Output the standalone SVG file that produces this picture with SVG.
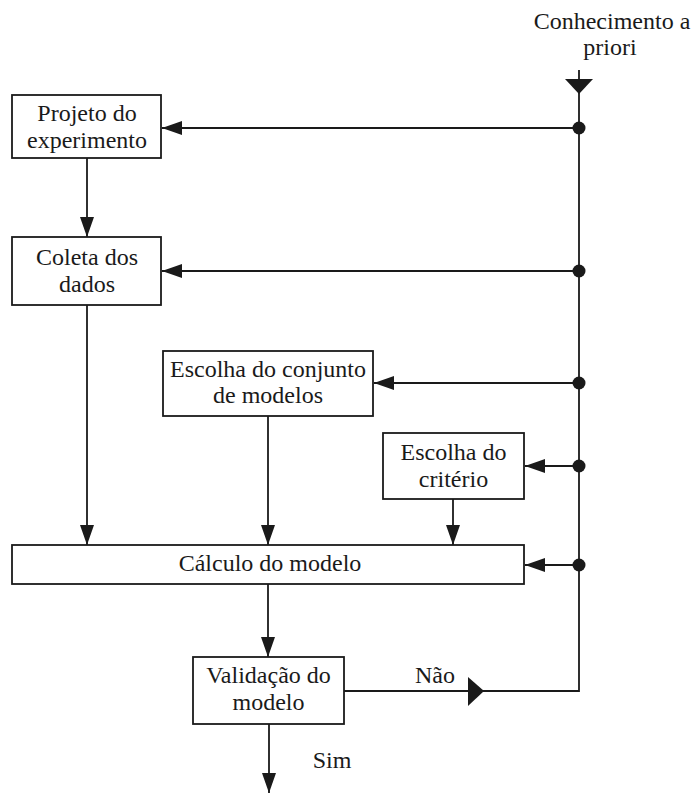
<svg xmlns="http://www.w3.org/2000/svg" width="693" height="796" viewBox="0 0 693 796">
<style>
.box{fill:#fff;stroke:#1a1a1a;stroke-width:1.8}
.ln{fill:none;stroke:#1a1a1a;stroke-width:1.8}
.t{font-family:"Liberation Serif","Times New Roman",serif;font-size:24px;fill:#1a1a1a;text-anchor:middle}
.dot{fill:#1a1a1a}
.tri{fill:#1a1a1a}
</style>
<defs>
<marker id="arr" markerUnits="userSpaceOnUse" markerWidth="20" markerHeight="14" refX="20" refY="7" orient="auto">
<path d="M0,0 L20,7 L0,14 z" fill="#1a1a1a"/>
</marker>
</defs>
<rect width="693" height="796" fill="#fff"/>
<g id="connectors">
<path class="ln" d="M579,70 V691 H344"/>
<polygon class="tri" points="565,79 593,79 579,94"/>
<polygon class="tri" points="468,677 484,691 468,706"/>
<path class="ln" d="M579,128 H162" marker-end="url(#arr)"/>
<path class="ln" d="M579,271 H162" marker-end="url(#arr)"/>
<path class="ln" d="M579,383 H374" marker-end="url(#arr)"/>
<path class="ln" d="M579,466 H525" marker-end="url(#arr)"/>
<path class="ln" d="M579,565 H525" marker-end="url(#arr)"/>
<circle class="dot" cx="579" cy="128" r="6.5"/>
<circle class="dot" cx="579" cy="271" r="6.5"/>
<circle class="dot" cx="579" cy="383" r="6.5"/>
<circle class="dot" cx="579" cy="466" r="6.5"/>
<circle class="dot" cx="579" cy="565" r="6.5"/>
<path class="ln" d="M87,158 V237" marker-end="url(#arr)"/>
<path class="ln" d="M87,305 V545" marker-end="url(#arr)"/>
<path class="ln" d="M268,416 V545" marker-end="url(#arr)"/>
<path class="ln" d="M453,499 V545" marker-end="url(#arr)"/>
<path class="ln" d="M268,584 V657" marker-end="url(#arr)"/>
<path class="ln" d="M269,724 V793" marker-end="url(#arr)"/>
<text class="t" x="435" y="683">Não</text>
<text class="t" x="332" y="768">Sim</text>
</g>
<g id="input">
<text class="t" x="612" y="29">Conhecimento a</text>
<text class="t" x="610" y="55">priori</text>
</g>
<g id="projeto">
<rect class="box" x="12" y="95" width="149" height="63"/>
<text class="t" x="87" y="121">Projeto do</text>
<text class="t" x="87" y="148">experimento</text>
</g>
<g id="coleta">
<rect class="box" x="12" y="237" width="149" height="68"/>
<text class="t" x="87" y="265">Coleta dos</text>
<text class="t" x="87" y="292">dados</text>
</g>
<g id="conjunto">
<rect class="box" x="163" y="351" width="210" height="65"/>
<text class="t" x="268" y="377">Escolha do conjunto</text>
<text class="t" x="268" y="403">de modelos</text>
</g>
<g id="criterio">
<rect class="box" x="383" y="433" width="141" height="66"/>
<text class="t" x="453.5" y="460">Escolha do</text>
<text class="t" x="453.5" y="487">critério</text>
</g>
<g id="calculo">
<rect class="box" x="12" y="545" width="512" height="39"/>
<text class="t" x="270" y="571">Cálculo do modelo</text>
</g>
<g id="validacao">
<rect class="box" x="193" y="657" width="151" height="67"/>
<text class="t" x="268.5" y="683">Validação do</text>
<text class="t" x="268.5" y="710">modelo</text>
</g>
</svg>
